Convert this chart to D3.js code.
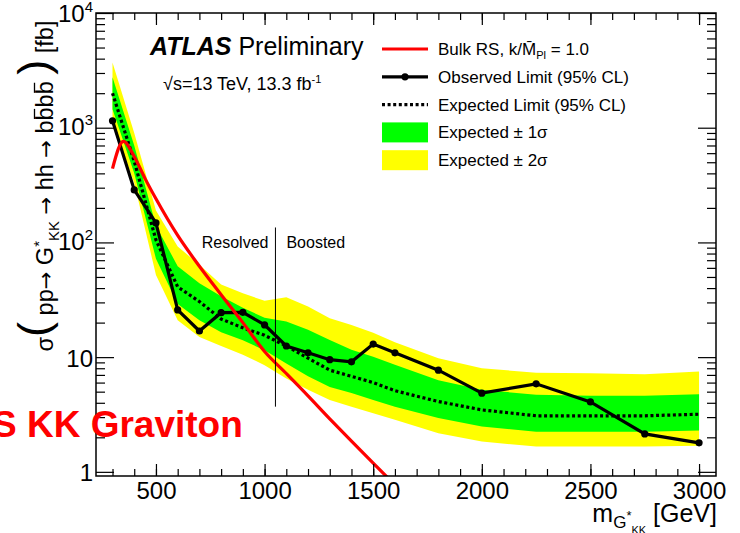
<!DOCTYPE html>
<html>
<head>
<meta charset="utf-8">
<script src="https://cdn.jsdelivr.net/npm/d3@7"></script>
<style>
body { margin: 0; background: #fff; }
text { font-family: "Liberation Sans", Arial, Helvetica, sans-serif; }
</style>
</head>
<body>
<div id="chart"></div>
<script>
// limit points, resonance mass in GeV, cross section in fb
const mass     = [300, 400, 500, 600, 700, 800, 900, 1000, 1100, 1200, 1300, 1400, 1500, 1600, 1800, 2000, 2250, 2500, 2750, 3000];
const observed = [1150, 287, 148, 25.8, 16.9, 24.4, 24.6, 19.1, 12.5, 10.9, 9.5, 9.1, 13.0, 10.9, 7.7, 4.85, 5.85, 4.07, 2.14, 1.79];
const expected = [2000, 510, 105, 41, 30.5, 21.5, 18, 15.5, 12.5, 9.8, 7.7, 6.8, 6.0, 5.1, 4.1, 3.47, 3.08, 3.08, 3.08, 3.18];
const plus1    = [2750, 700, 140, 62, 44, 34, 27, 22, 20.4, 17.3, 14.1, 11.6, 10.1, 8.6, 6.3, 5.2, 4.7, 4.6, 4.6, 4.75];
const minus1   = [1450, 400, 72, 29, 21, 16.5, 14, 11.5, 8.8, 6.8, 5.5, 4.86, 4.24, 3.7, 2.94, 2.48, 2.24, 2.24, 2.24, 2.29];
const plus2    = [3700, 900, 190, 92, 64, 43, 36, 31, 33.3, 27.6, 21.8, 19.1, 16.3, 13.5, 9.8, 8.0, 7.3, 7.25, 7.1, 7.5];
const minus2   = [1100, 330, 52, 21, 15, 12.5, 10.5, 8.5, 6.5, 5.2, 4.24, 3.7, 3.25, 2.84, 2.17, 1.84, 1.66, 1.66, 1.66, 1.69];

// Bulk RS k/Mpl = 1.0 theory curve
const thMass  = [300, 350, 400, 450, 500, 600, 700, 800, 900, 1000, 1100, 1200, 1300, 1400, 1500, 1600];
const thXsec  = [440, 760, 560, 360, 240, 115, 62, 35, 20, 11.2, 7.2, 4.6, 2.9, 1.85, 1.19, 0.77];

// axis ticks
const xMajor = [500, 1000, 1500, 2000, 2500, 3000];
const xMinor = d3.range(300, 3001, 100);
const yMajor = [1, 10, 100, 1000, 10000];
const yMinor = [];
[1, 10, 100, 1000].forEach(dec => { for (let k = 2; k <= 9; k++) yMinor.push(dec * k); });

// resolved / boosted split
const splitMass = 1050;
const splitRange = [3.7, 135];

const W = 740, H = 533;
const plot = { left: 96, right: 716, top: 13, bottom: 476 };
const font = '"Liberation Sans", Arial, Helvetica, sans-serif';

const svg = d3.select("#chart").append("svg")
    .attr("width", W)
    .attr("height", H);

const x = d3.scaleLinear().domain([224, 3078]).range([plot.left, plot.right]);
const y = d3.scaleLog().domain([0.92, 10000]).range([plot.bottom, plot.top]);

svg.append("clipPath").attr("id", "clip")
    .append("rect")
    .attr("x", plot.left).attr("y", plot.top)
    .attr("width", plot.right - plot.left).attr("height", plot.bottom - plot.top);

const g = svg.append("g").attr("clip-path", "url(#clip)");
const idx = d3.range(mass.length);

// bands
const band = (lo, hi) => d3.area()
    .x(i => x(mass[i]))
    .y0(i => y(lo[i]))
    .y1(i => y(hi[i]));

g.append("path").attr("d", band(minus2, plus2)(idx)).attr("fill", "#ffff00");
g.append("path").attr("d", band(minus1, plus1)(idx)).attr("fill", "#00ff00");

// expected
g.append("path")
    .attr("d", d3.line().x(i => x(mass[i])).y(i => y(expected[i]))(idx))
    .attr("fill", "none")
    .attr("stroke", "#000")
    .attr("stroke-width", 3.2)
    .attr("stroke-dasharray", "3,2.6");

// observed
g.append("path")
    .attr("d", d3.line().x(i => x(mass[i])).y(i => y(observed[i]))(idx))
    .attr("fill", "none")
    .attr("stroke", "#000")
    .attr("stroke-width", 3.2);

g.selectAll("circle.obs")
    .data(idx)
    .join("circle")
    .attr("class", "obs")
    .attr("cx", i => x(mass[i]))
    .attr("cy", i => y(observed[i]))
    .attr("r", 3.6)
    .attr("fill", "#000");

// theory
g.append("path")
    .attr("d", d3.line().curve(d3.curveMonotoneX)
        .x((d, i) => x(thMass[i])).y(d => y(d))(thXsec))
    .attr("fill", "none")
    .attr("stroke", "#ff0000")
    .attr("stroke-width", 3.2);

// resolved / boosted line
svg.append("line")
    .attr("x1", x(splitMass)).attr("x2", x(splitMass))
    .attr("y1", y(splitRange[0])).attr("y2", y(splitRange[1]))
    .attr("stroke", "#000").attr("stroke-width", 1);

svg.append("text")
    .attr("x", x(splitMass) - 7).attr("y", 248)
    .attr("text-anchor", "end").attr("font-size", 16)
    .text("Resolved");
svg.append("text")
    .attr("x", x(splitMass) + 11).attr("y", 248)
    .attr("font-size", 16)
    .text("Boosted");

// axes
function styleAxis(sel) {
    sel.attr("font-family", font).attr("font-size", 24);
    sel.select(".domain").remove();
    sel.selectAll(".tick line").attr("stroke", "#000").attr("stroke-width", 1.2);
    sel.selectAll(".tick text").attr("fill", "#000");
}

svg.append("g")
    .attr("transform", `translate(0,${plot.bottom})`)
    .call(d3.axisBottom(x).tickValues(xMinor).tickSize(-7).tickFormat(""))
    .call(styleAxis);
svg.append("g")
    .attr("transform", `translate(0,${plot.bottom})`)
    .call(d3.axisBottom(x).tickValues(xMajor).tickSize(-12).tickPadding(6).tickFormat(d3.format("d")))
    .call(styleAxis);

svg.append("g")
    .attr("transform", `translate(0,${plot.top})`)
    .call(d3.axisTop(x).tickValues(xMinor).tickSize(-7).tickFormat(""))
    .call(styleAxis);
svg.append("g")
    .attr("transform", `translate(0,${plot.top})`)
    .call(d3.axisTop(x).tickValues(xMajor).tickSize(-12).tickFormat(""))
    .call(styleAxis);

svg.append("g")
    .attr("transform", `translate(${plot.left},0)`)
    .call(d3.axisLeft(y).tickValues(yMinor).tickSize(-9).tickFormat(""))
    .call(styleAxis);
svg.append("g")
    .attr("transform", `translate(${plot.left},0)`)
    .call(d3.axisLeft(y).tickValues(yMajor).tickSize(-18).tickPadding(3).tickFormat(""))
    .call(styleAxis)
    .call(a => a.selectAll(".tick text").each(function (d) {
        const t = d3.select(this);
        const e = Math.round(Math.log10(d));
        if (e <= 1) {
            t.attr("dy", "0.37em").text(e === 0 ? "1" : "10");
        } else {
            t.attr("dy", e === 4 ? "0.36em" : "0.28em");
            t.append("tspan").text("10");
            t.append("tspan").attr("font-size", 15).attr("dy", -10).text(e);
        }
    }));

svg.append("g")
    .attr("transform", `translate(${plot.right},0)`)
    .call(d3.axisRight(y).tickValues(yMinor).tickSize(-9).tickFormat(""))
    .call(styleAxis);
svg.append("g")
    .attr("transform", `translate(${plot.right},0)`)
    .call(d3.axisRight(y).tickValues(yMajor).tickSize(-18).tickFormat(""))
    .call(styleAxis);

svg.append("rect")
    .attr("x", plot.left).attr("y", plot.top)
    .attr("width", plot.right - plot.left).attr("height", plot.bottom - plot.top)
    .attr("fill", "none").attr("stroke", "#000").attr("stroke-width", 1.5);

// x title
const xt = svg.append("text")
    .attr("x", 717).attr("y", 522)
    .attr("text-anchor", "end").attr("font-size", 25);
xt.append("tspan").text("m");
xt.append("tspan").attr("font-size", 17).attr("dy", 6).text("G");
xt.append("tspan").attr("font-size", 13).attr("dy", -8).text("*");
xt.append("tspan").attr("font-size", 11).attr("dy", 14).text("KK");
xt.append("tspan").attr("dy", -12).text(" [GeV]");

// y title
const arrowFont = '"DejaVu Sans", sans-serif';
const ytg = svg.append("g").attr("transform", "translate(53,186) rotate(-90)");
const yt = ytg.append("text")
    .attr("text-anchor", "middle").attr("font-size", 23.5);
yt.append("tspan").text("σ");
yt.append("tspan").attr("font-size", 45).attr("dy", -4).text("(");
yt.append("tspan").attr("dy", 4).text(" pp");
yt.append("tspan").attr("font-family", arrowFont).attr("font-size", 21).text("→");
yt.append("tspan").text(" G");
yt.append("tspan").attr("font-size", 15).attr("dy", -9).text("*");
yt.append("tspan").attr("font-size", 15).attr("dy", 15).text("KK");
yt.append("tspan").attr("dy", -6).text(" ");
yt.append("tspan").attr("font-family", arrowFont).attr("font-size", 21).text("→");
yt.append("tspan").text(" hh ");
yt.append("tspan").attr("font-family", arrowFont).attr("font-size", 21).text("→");
yt.append("tspan").text(" bbbb ");
yt.append("tspan").attr("font-size", 45).attr("dy", -4).text(")");
yt.append("tspan").attr("dy", 4).text(" [fb]");

// bars over the anti-b quarks
{
    const node = yt.node();
    const full = node.textContent;
    const start = full.indexOf(" bbbb ") + 1;
    [start + 1, start + 3].forEach(ci => {
        const ex = node.getExtentOfChar(ci);
        ytg.append("line")
            .attr("x1", ex.x + 1.5).attr("x2", ex.x + ex.width - 1.5)
            .attr("y1", ex.y + 2.5).attr("y2", ex.y + 2.5)
            .attr("stroke", "#000").attr("stroke-width", 1.3);
    });
}

// ATLAS label
const atl = svg.append("text").attr("x", 150).attr("y", 55).attr("font-size", 25);
atl.append("tspan").attr("font-weight", "bold").attr("font-style", "italic").text("ATLAS");
atl.append("tspan").text(" Preliminary");

const lum = svg.append("text").attr("x", 163).attr("y", 90).attr("font-size", 18);
lum.append("tspan").text("√s=13 TeV, 13.3 fb");
lum.append("tspan").attr("font-size", 11).attr("dy", -7).text("-1");

// legend
const legendLabels = ["Bulk RS", "Observed Limit (95% CL)", "Expected Limit (95% CL)", "Expected ± 1σ", "Expected ± 2σ"];
const legendY = legendLabels.map((d, i) => 49 + i * 27.8);
const lx0 = 382, lx1 = 428, ltx = 438;

svg.append("line").attr("x1", lx0).attr("x2", lx1).attr("y1", legendY[0]).attr("y2", legendY[0])
    .attr("stroke", "#ff0000").attr("stroke-width", 3.2);
svg.append("line").attr("x1", lx0).attr("x2", lx1).attr("y1", legendY[1]).attr("y2", legendY[1])
    .attr("stroke", "#000").attr("stroke-width", 3.2);
svg.append("circle").attr("cx", (lx0 + lx1) / 2).attr("cy", legendY[1]).attr("r", 3.6).attr("fill", "#000");
svg.append("line").attr("x1", lx0).attr("x2", lx1).attr("y1", legendY[2]).attr("y2", legendY[2])
    .attr("stroke", "#000").attr("stroke-width", 3.2).attr("stroke-dasharray", "3,2.6");
svg.append("rect").attr("x", lx0).attr("y", legendY[3] - 10).attr("width", lx1 - lx0).attr("height", 20)
    .attr("fill", "#00ff00");
svg.append("rect").attr("x", lx0).attr("y", legendY[4] - 10).attr("width", lx1 - lx0).attr("height", 20)
    .attr("fill", "#ffff00");

legendLabels.forEach((lab, i) => {
    const t = svg.append("text").attr("x", ltx).attr("y", legendY[i] + 6).attr("font-size", 17);
    if (i === 0) {
        t.append("tspan").text("Bulk RS, k/M\u0304");
        t.append("tspan").attr("font-size", 11).attr("dy", 4).text("Pl");
        t.append("tspan").attr("dy", -4).text(" = 1.0");
    } else {
        t.text(lab);
    }
});

// overlay title
svg.append("text")
    .attr("x", -8).attr("y", 437)
    .attr("font-size", 37).attr("font-weight", "bold")
    .attr("fill", "#ff0000")
    .text("S KK Graviton");
</script>
</body>
</html>
